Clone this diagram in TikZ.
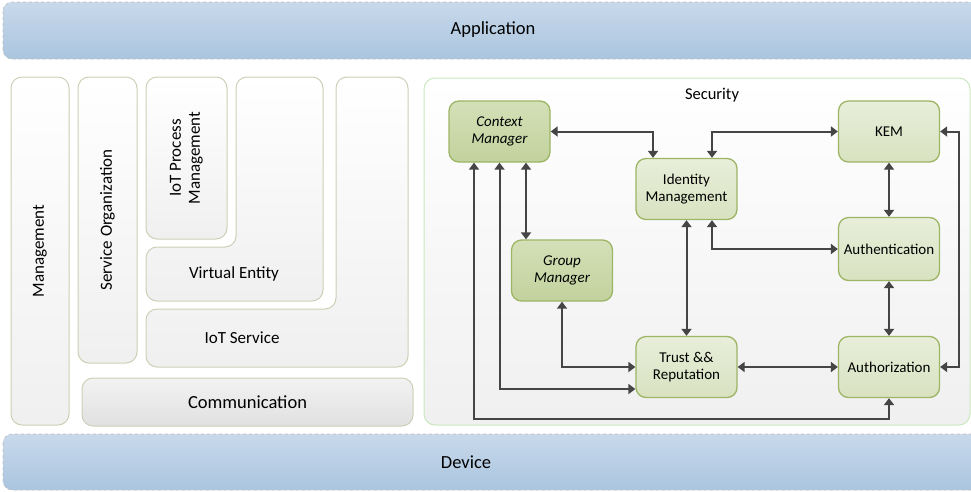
\documentclass[tikz,border=0pt]{standalone}
\usepackage{fontspec}
\setmainfont{Carlito}
\usetikzlibrary{arrows.meta,calc}
\definecolor{barTop}{HTML}{C8D9EB}
\definecolor{barBot}{HTML}{AAC5DF}
\definecolor{boxLine}{HTML}{CFCFB8}
\definecolor{darkTop}{HTML}{D4E0B8}
\definecolor{darkBot}{HTML}{C2D29D}
\definecolor{liteTop}{HTML}{E8EEDA}
\definecolor{liteBot}{HTML}{D8E2C0}
\definecolor{greenLine}{HTML}{9DB564}
\definecolor{arrGray}{HTML}{454545}
\tikzset{
  layer/.style={draw=gray!50,dashed,line width=0.6pt,rounded corners=9pt,top color=barTop,bottom color=barBot},
  block/.style={draw=boxLine,line width=1pt,rounded corners=11pt,top color=white,bottom color=gray!12},
  comm/.style={draw=boxLine,line width=1pt,rounded corners=11pt,top color=gray!10,bottom color=gray!24},
  panel/.style={draw=boxLine!80!green!60!white,line width=1pt,rounded corners=11pt,top color=white,bottom color=gray!12},
  mgr/.style={draw=greenLine,line width=1.3pt,rounded corners=10pt,top color=darkTop,bottom color=darkBot,
    minimum width=101pt,minimum height=61pt,inner sep=0pt,align=center,font=\fontsize{15}{17}\selectfont\itshape},
  func/.style={draw=greenLine,line width=1.3pt,rounded corners=10pt,top color=liteTop,bottom color=liteBot,
    minimum width=101pt,minimum height=61pt,inner sep=0pt,align=center,font=\fontsize{15}{17}\selectfont},
  link/.style={draw=arrGray,line width=2pt,{Triangle[length=7pt,width=10pt]}-{Triangle[length=7pt,width=10pt]}}
}

\begin{document}
\begin{tikzpicture}[x=1pt,y=-1pt]
  \useasboundingbox (0,0) rectangle (971,491);

  % Top and bottom layers
  \draw[layer] (3,2) rectangle (985,59);
  \node[font=\fontsize{18.5}{21}\selectfont] (app) at (493,30) {Application};
  \draw[layer] (3,434) rectangle (985,490);
  \node[font=\fontsize{18.5}{21}\selectfont] (dev) at (466,462) {Device};

  % Functional groups on the left
  \draw[block] (11,77) rectangle (69,425);
  \node[rotate=90,font=\fontsize{17}{20}\selectfont] (mgmt) at (40,251) {Management};
  \draw[block] (78,77) rectangle (137,363);
  \node[rotate=90,font=\fontsize{17}{20}\selectfont] (so) at (107.5,220) {Service Organization};
  \draw[block] (146,77) rectangle (227,239);
  \node[rotate=90,align=center,font=\fontsize{17}{19}\selectfont] (pm) at (186.5,158) {IoT Process\\Management};
  \draw[block] (236,77) -- (323,77) -- (323,301) -- (146,301) -- (146,247) -- (236,247) -- cycle;
  \node[font=\fontsize{17}{20}\selectfont] (ve) at (234,274) {Virtual Entity};
  \draw[block] (336,77) -- (408,77) -- (408,367) -- (146,367) -- (146,309) -- (336,309) -- cycle;
  \node[font=\fontsize{17}{20}\selectfont] (ios) at (242,338) {IoT Service};
  \draw[comm] (82,378) rectangle (413,426);
  \node[font=\fontsize{18.5}{21}\selectfont] (com) at (247.5,402) {Communication};

  % Security panel
  \draw[panel] (424,78) rectangle (970,425);
  \node[font=\fontsize{16.5}{19}\selectfont] (sec) at (712,95) {Security};

  \node[mgr]  (ctx)   at (499.5,131.5) {Context\\Manager};
  \node[func] (kem)   at (889,131.5)   {KEM};
  \node[func] (idm)   at (686.5,189)   {Identity\\Management};
  \node[func,minimum height=63pt] (authn) at (889,249) {Authentication};
  \node[mgr]  (grp)   at (562,270.5)   {Group\\Manager};
  \node[func] (trust) at (686.5,367)   {Trust \&\&\\Reputation};
  \node[func] (authz) at (889,367)     {Authorization};

  \coordinate (low) at (0,419);
  \coordinate (rgt) at (959,0);

  % Connectors
  \draw[link] (ctx.east) -| ([xshift=-33.5pt]idm.north);
  \draw[link] ([xshift=25.5pt]idm.north) |- (kem.west);
  \draw[link] (kem.south) -- (authn.north);
  \draw[link] (authn.south) -- (authz.north);
  \draw[link] ([xshift=25.5pt]idm.south) |- (authn.west);
  \draw[link] (idm.south) -- (trust.north);
  \draw[link] ([xshift=26.5pt]ctx.south) -- ([xshift=26.5pt]ctx.south |- grp.north);
  \draw[link] (grp.south) |- (trust.west);
  \draw[link] (ctx.south) |- ([yshift=-22pt]trust.west);
  \draw[link] ([xshift=-25.5pt]ctx.south) -- ([xshift=-25.5pt]ctx.south |- low) -| (authz.south);
  \draw[link] (trust.east) -- (authz.west);
  \draw[link] (kem.east) -- (kem.east -| rgt) -- (authz.east -| rgt) -- (authz.east);
\end{tikzpicture}
\end{document}
